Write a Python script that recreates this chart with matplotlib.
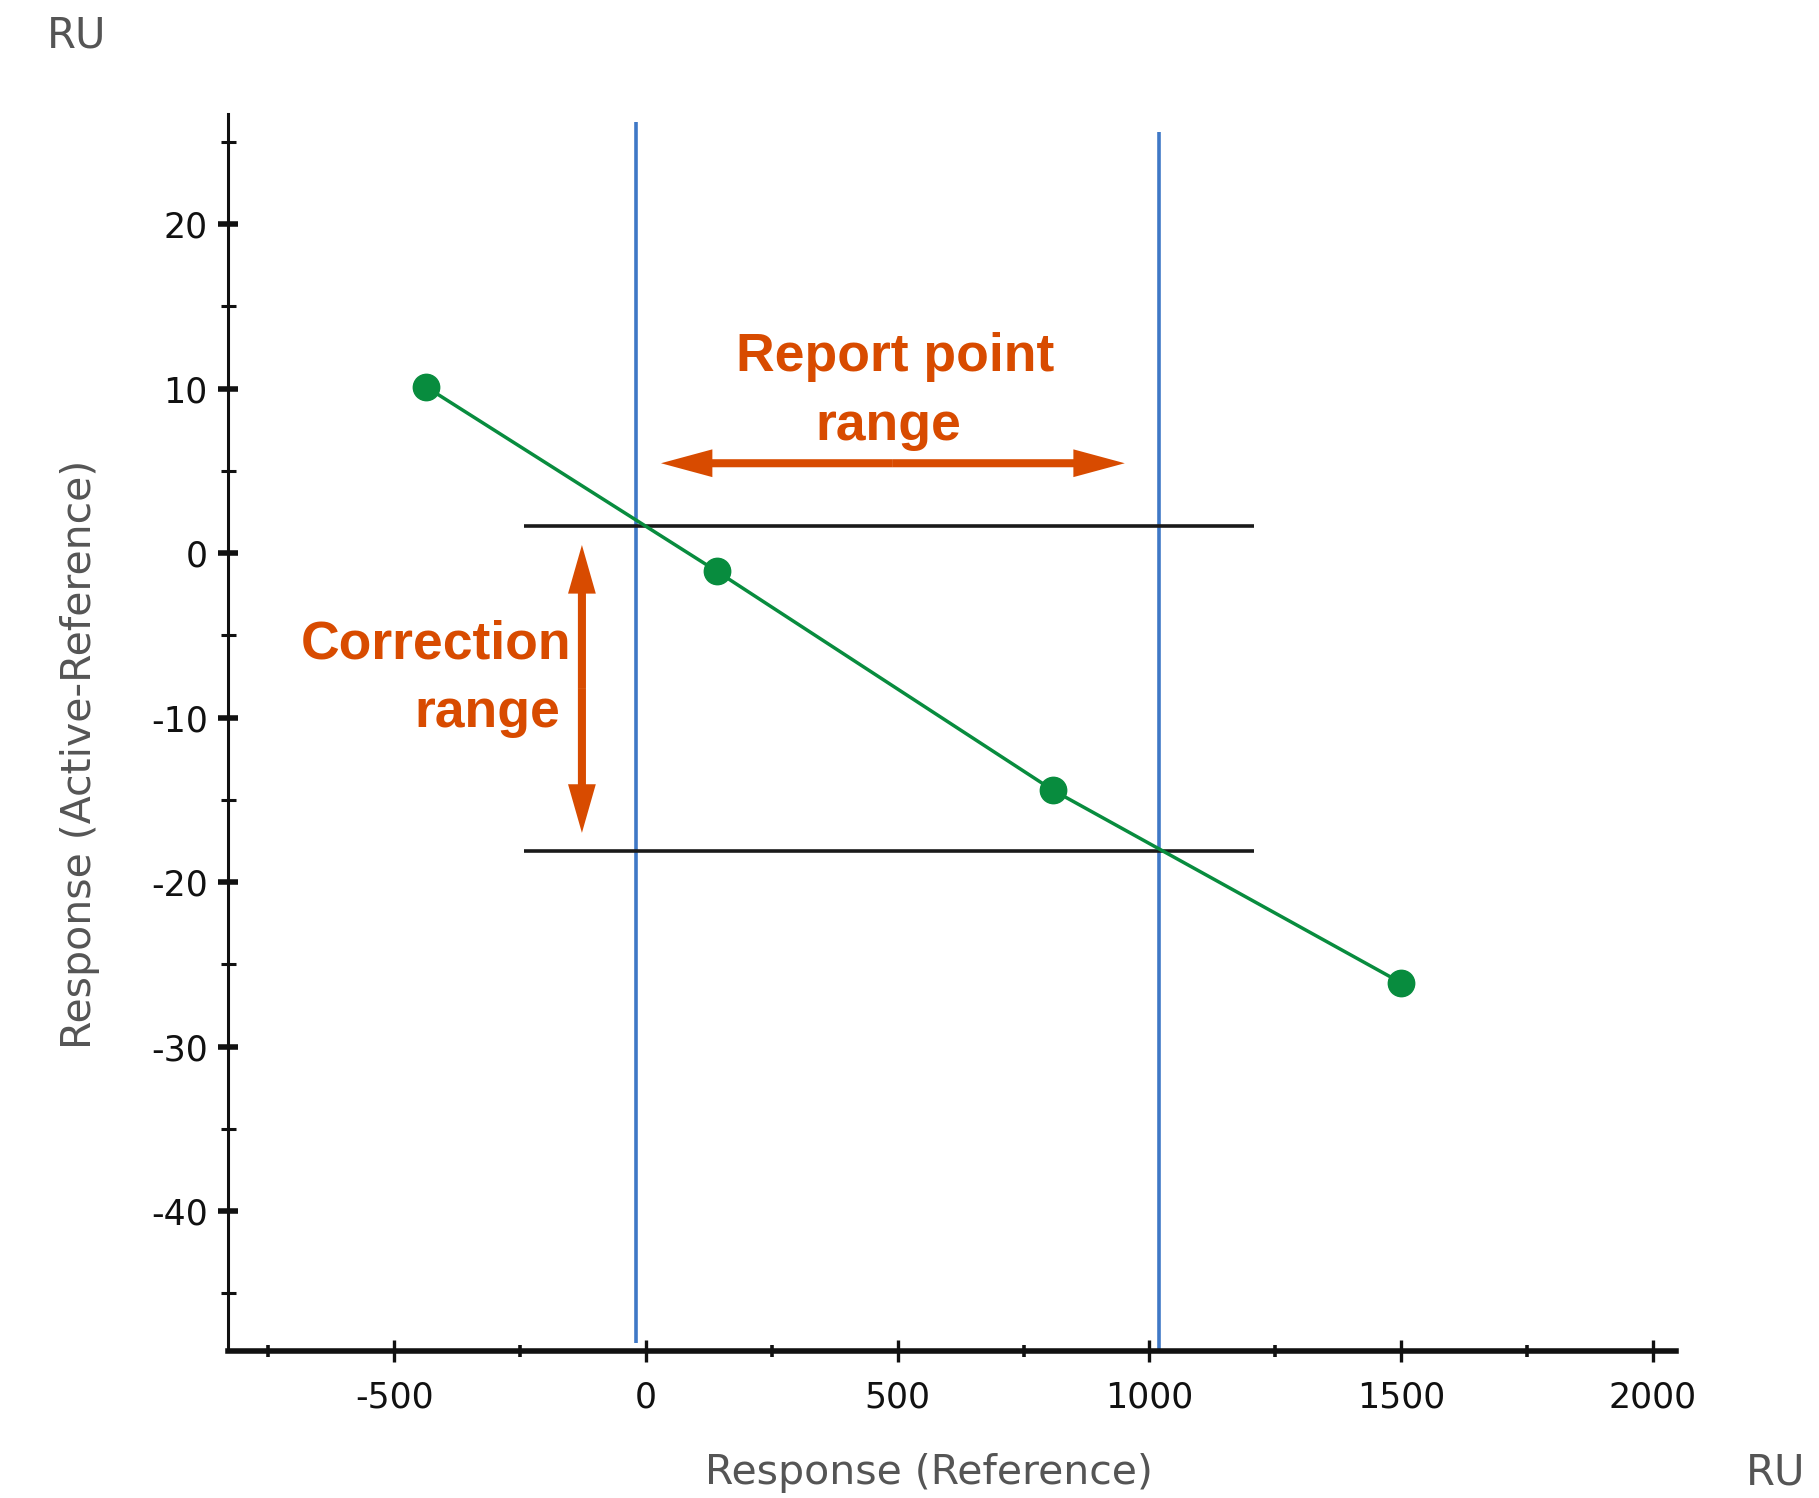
import numpy as np
import matplotlib
matplotlib.use("Agg")
import matplotlib.pyplot as plt
from matplotlib.patches import FancyArrowPatch, ArrowStyle
from matplotlib.ticker import MultipleLocator

# measured points: reference response vs. (active - reference)
ref_resp = [-436, 141, 808, 1499]
diff_resp = [10.1, -1.1, -14.4, -26.1]

# report point range (vertical markers) and correction range (horizontal markers)
report_x = [-19, 1018]
report_top = [26.2, 25.6]
report_bottom = [-48.0, -48.5]
correction_y = [1.64, -18.1]
correction_xmin, correction_xmax = -242, 1208

x_ticks = [-500, 0, 500, 1000, 1500, 2000]
y_ticks = [-40, -30, -20, -10, 0, 10, 20]

GREEN = '#088c3e'
BLUE = '#3f78c6'
ORANGE = '#d84b00'
GREY = '#555555'

plt.rcParams['font.family'] = ['DejaVu Sans']
plt.rcParams['axes.unicode_minus'] = False


def double_arrow(ax, p0, p1, head_len=37, head_w=20, tail_w=5.8):
    """Two simple arrows from the middle outwards -> one double headed arrow."""
    mid = ((p0[0] + p1[0]) / 2, (p0[1] + p1[1]) / 2)
    style = ArrowStyle.Simple(head_length=head_len, head_width=head_w, tail_width=tail_w)
    for end in (p0, p1):
        arr = FancyArrowPatch(mid, end, arrowstyle=style, mutation_scale=1,
                              shrinkA=0, shrinkB=0, lw=0, color=ORANGE, zorder=5)
        ax.add_patch(arr)


fig = plt.figure(figsize=(18.19, 14.98), dpi=100)
ax = fig.add_axes([0.1253, 0.0981, 0.7959, 0.8258])

ax.set_xlim(-830, 2045)
ax.set_ylim(-48.5, 26.7)

# data + connecting line
ax.plot(ref_resp, diff_resp, color=GREEN, lw=2.5, zorder=3)
ax.plot(ref_resp, diff_resp, 'o', color=GREEN, ms=19, zorder=4)

# range markers
ax.vlines(report_x, report_bottom, report_top, color=BLUE, lw=2.6, zorder=2)
ax.hlines(correction_y, correction_xmin, correction_xmax, color='#1a1a1a', lw=2.6, zorder=2)

# arrows
double_arrow(ax, (30, 5.47), (951, 5.47))
double_arrow(ax, (-127, 0.5), (-127, -17.0), head_len=35)

# annotation texts
txt = dict(color=ORANGE, fontsize=38.5, fontweight='bold', family='Liberation Sans')
ax.text(494, 11.08, 'Report point', ha='center', va='baseline', **txt)
ax.text(482, 6.91, 'range', ha='center', va='baseline', **txt)
ax.text(-147, -6.38, 'Correction', ha='right', va='baseline', **txt)
ax.text(-171, -10.56, 'range', ha='right', va='baseline', **txt)

# axes styling
ax.spines['top'].set_visible(False)
ax.spines['right'].set_visible(False)
ax.spines['bottom'].set_linewidth(4.0)
ax.spines['left'].set_linewidth(2.2)
for s in ('bottom', 'left'):
    ax.spines[s].set_color('#111111')

ax.set_xticks(x_ticks)
ax.set_yticks(y_ticks)
ax.xaxis.set_minor_locator(MultipleLocator(250))
ax.yaxis.set_minor_locator(MultipleLocator(5))

ax.tick_params(axis='x', which='major', direction='inout', length=16, width=2.4,
               pad=13.5, labelsize=25, colors='#111111')
ax.tick_params(axis='x', which='minor', direction='inout', length=8, width=2.6,
               colors='#111111')
ax.tick_params(axis='y', which='major', direction='inout', length=15, width=4.0,
               pad=7, labelsize=25, colors='#111111')
ax.tick_params(axis='y', which='minor', direction='inout', length=10.8, width=2.2,
               colors='#111111')

# axis titles and units
fig.text(0.5107, 0.0167, 'Response (Reference)', ha='center', va='center',
         fontsize=29.5, color=GREY)
fig.text(0.0440, 0.4967, 'Response (Active-Reference)', ha='center', va='center',
         rotation=90, fontsize=29.5, color=GREY)
fig.text(0.0258, 0.9766, 'RU', ha='left', va='center', fontsize=30, color=GREY)
fig.text(0.9923, 0.0167, 'RU', ha='right', va='center', fontsize=30, color=GREY)

fig.savefig('out.png', dpi=100, facecolor='white')
